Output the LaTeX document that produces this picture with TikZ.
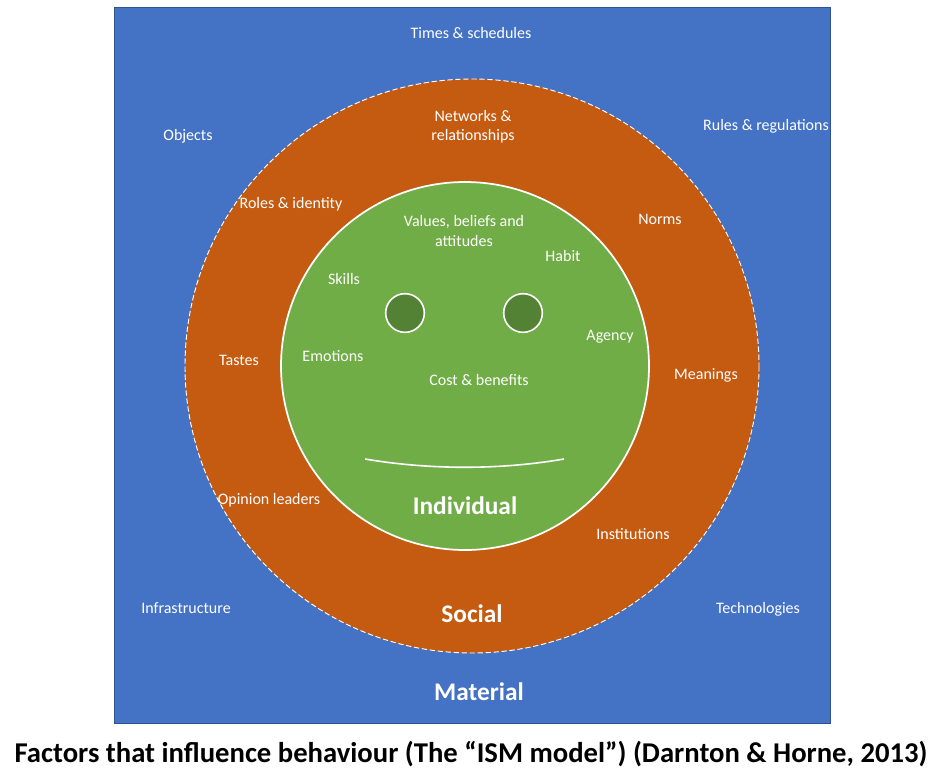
\documentclass[tikz,border=0pt]{standalone}
\usepackage{fontspec}
\setmainfont{Carlito}
\usetikzlibrary{positioning}

\definecolor{matblue}{HTML}{4472C4}
\definecolor{matedge}{HTML}{2F528F}
\definecolor{socorange}{HTML}{C55A11}
\definecolor{indgreen}{HTML}{70AD47}
\definecolor{eyegreen}{HTML}{548235}

\begin{document}
\begin{tikzpicture}[
x=0.75pt, y=-0.75pt,
every node/.style={font=\fontsize{12}{14.3}\selectfont, text=white, align=center, yshift=-1.5pt},
layer/.style={font=\fontsize{19}{22}\selectfont\bfseries, text=white},
eye/.style={circle, fill=eyegreen, draw=white, line width=1.2pt, minimum size=29pt, inner sep=0pt, yshift=0pt}
]

\useasboundingbox (0,0) rectangle (949,772);

% material layer
\draw[matedge, fill=matblue, line width=0.6pt] (114,7) rectangle (830,723);

% social layer
\draw[white, fill=socorange, line width=0.7pt, dash pattern=on 4pt off 2pt] (472,366) circle[radius=287];

% individual layer
\draw[white, fill=indgreen, line width=1.3pt] (465,366) circle[radius=184];

% face
\node[eye] (lefteye) at (405,311) {};
\node[eye] (righteye) at (523,311) {};
\draw[white, line width=1.2pt] (365,459) .. controls (430,470) and (500,470) .. (564,459);


\node (times) at (471,31) {Times \& schedules};
\node (objects) at (188,134) {Objects};
\node (rules) at (766,124) {Rules \& regulations};
\node (infra) at (186,606) {Infrastructure};
\node (tech) at (758,607) {Technologies};
\node[layer] (material) at (479,690) {Material};


\node (networks) at (473,125) {Networks \&\\relationships};
\node (roles) at (291,202) {Roles \& identity};
\node (norms) at (660,217) {Norms};
\node (tastes) at (239,358) {Tastes};
\node (meanings) at (706,373) {Meanings};
\node (opinion) at (269,498) {Opinion leaders};
\node (institutions) at (633,532) {Institutions};
\node[layer] (social) at (472,612) {Social};


\node (values) at (464,229) {Values, beliefs and\\attitudes};
\node (habit) at (563,254) {Habit};
\node (skills) at (344,277) {Skills};
\node (agency) at (610,335) {Agency};
\node (emotions) at (333,354) {Emotions};
\node (cost) at (479,378) {Cost \& benefits};
\node[layer] (individual) at (465,504) {Individual};


\node[text=black, font=\fontsize{21.5}{24}\selectfont\bfseries] (caption) at (471,752)
{Factors that influence behaviour (The “ISM model”) (Darnton \& Horne, 2013)};

\end{tikzpicture}
\end{document}
